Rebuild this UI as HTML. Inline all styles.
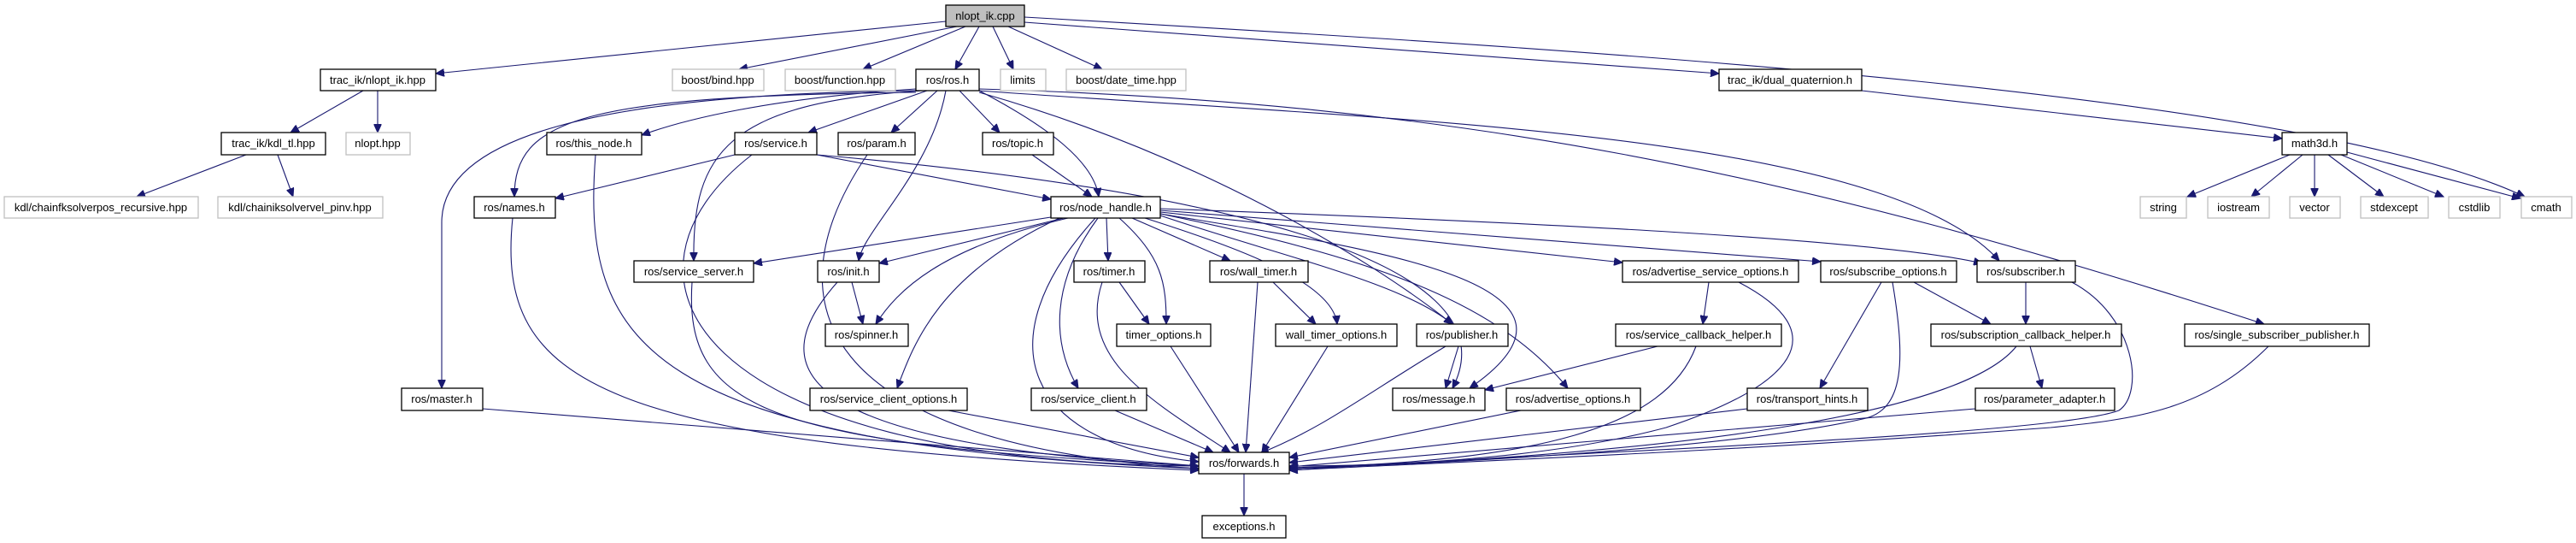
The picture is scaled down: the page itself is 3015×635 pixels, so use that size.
<!DOCTYPE html>
<html><head><meta charset="utf-8"><style>
html,body{margin:0;padding:0;background:#fff;}
svg{display:block}
text{font-family:"Liberation Sans",Arial,sans-serif;font-size:13px;fill:#000;text-anchor:middle}
.b{fill:#fff;stroke:#000;stroke-width:1.3}
.g{fill:#fff;stroke:#bfbfbf;stroke-width:1.3}
.e{fill:none;stroke:#191970;stroke-width:1.1}
</style></head><body>
<svg width="3015" height="635" viewBox="0 0 3015 635" xmlns="http://www.w3.org/2000/svg">
<defs><marker id="a" markerUnits="userSpaceOnUse" markerWidth="11" markerHeight="9" refX="10" refY="4.5" orient="auto"><path d="M0,0 L10,4.5 L0,9 z" fill="#191970" stroke="#191970"/></marker></defs>
<g class="e" marker-end="url(#a)">
<path d="M1107,25 L510,86"/>
<path d="M1120,31 L865,81"/>
<path d="M1130,31 L1010,81"/>
<path d="M1146,31 L1118,81"/>
<path d="M1162,31 L1186,81"/>
<path d="M1180,31 L1290,81"/>
<path d="M1199,26 L2012,86"/>
<path d="M1199,20 C1900,60 2700,110 2955,230"/>
<path d="M425,106 L340,155"/>
<path d="M442,106 L442,155"/>
<path d="M288,181 L160,230"/>
<path d="M325,181 L343,230"/>
<path d="M2179,106 L2671,162"/>
<path d="M2680,181 L2560,230"/>
<path d="M2695,181 L2635,230"/>
<path d="M2709,181 L2709,230"/>
<path d="M2725,181 L2790,230"/>
<path d="M2740,181 L2860,230"/>
<path d="M2747,178 L2950,232"/>
<path d="M1072,104 C900,115 800,140 751,158"/>
<path d="M1072,108 C680,112 602,140 602,230"/>
<path d="M1072,106 C700,110 517,160 517,260 L517,454"/>
<path d="M1080,106 C850,120 810,180 812,305"/>
<path d="M1085,106 L946,155"/>
<path d="M1097,106 L1043,155"/>
<path d="M1107,106 C1090,200 1010,270 1005,305"/>
<path d="M1123,106 L1170,155"/>
<path d="M1146,106 C1230,150 1280,190 1286,230"/>
<path d="M1146,108 C1400,180 1600,300 1700,379"/>
<path d="M1146,106 C1600,140 2200,150 2340,305"/>
<path d="M1146,104 C1700,120 2100,200 2650,379"/>
<path d="M860,181 L650,232"/>
<path d="M956,181 L1230,233"/>
<path d="M880,181 C700,320 800,540 1403,545"/>
<path d="M956,181 C1400,220 1780,300 1700,454"/>
<path d="M1015,181 C900,350 950,520 1403,548"/>
<path d="M697,181 C680,400 750,520 1403,548"/>
<path d="M600,255 C580,450 700,520 1403,550"/>
<path d="M565,478 L1403,545"/>
<path d="M1208,181 L1278,230"/>
<path d="M1230,254 L882,308"/>
<path d="M1245,255 L1029,308"/>
<path d="M1250,255 C1100,290 1050,340 1025,379"/>
<path d="M1240,255 C1100,320 1070,400 1050,454"/>
<path d="M1282,255 C1150,400 1200,520 1403,540"/>
<path d="M1285,255 C1230,330 1230,400 1262,454"/>
<path d="M1295,255 L1297,305"/>
<path d="M1310,255 C1360,300 1365,330 1365,379"/>
<path d="M1325,255 L1440,305"/>
<path d="M1340,255 C1450,290 1560,330 1565,379"/>
<path d="M1358,252 C1500,300 1640,330 1700,379"/>
<path d="M1358,250 C1600,290 1900,330 1720,454"/>
<path d="M1358,250 C1600,300 1750,350 1835,454"/>
<path d="M1358,248 L1899,307"/>
<path d="M1358,246 L2131,306"/>
<path d="M1358,244 C1800,260 2200,280 2320,308"/>
<path d="M997,330 L1010,379"/>
<path d="M980,330 C900,420 900,520 1403,545"/>
<path d="M810,330 C800,480 900,520 1403,545"/>
<path d="M1310,330 L1345,379"/>
<path d="M1290,330 C1260,420 1350,470 1440,529"/>
<path d="M1490,330 L1540,379"/>
<path d="M1472,330 L1458,529"/>
<path d="M1554,405 L1477,529"/>
<path d="M1370,405 L1450,529"/>
<path d="M1707,405 L1692,454"/>
<path d="M1692,405 C1600,460 1550,500 1475,530"/>
<path d="M1110,480 L1403,535"/>
<path d="M1305,480 L1420,529"/>
<path d="M1780,480 L1509,535"/>
<path d="M2000,330 L1993,379"/>
<path d="M2035,330 C2150,390 2100,450 1950,500 C1800,540 1600,545 1509,545"/>
<path d="M1940,405 L1738,456"/>
<path d="M1985,405 C1950,500 1800,540 1509,547"/>
<path d="M2202,330 L2130,454"/>
<path d="M2240,330 L2330,379"/>
<path d="M2215,330 C2230,420 2230,480 2180,490 C2000,530 1600,545 1509,548"/>
<path d="M2371,330 L2371,379"/>
<path d="M2425,330 C2500,370 2510,460 2480,480 C2400,510 1800,530 1509,550"/>
<path d="M2376,405 L2390,454"/>
<path d="M2360,405 C2300,480 2000,530 1509,548"/>
<path d="M2312,478 L1509,546"/>
<path d="M2045,478 L1509,541"/>
<path d="M2655,405 C2580,480 2500,490 2400,500 C2000,530 1700,540 1509,550"/>
<path d="M1456,554 L1456,603"/>
</g>
<g>
<rect x="1107" y="6" width="92" height="25" fill="#bfbfbf" stroke="#000" stroke-width="1.3"/><text x="1153" y="23">nlopt_ik.cpp</text>
<rect class="b" x="375" y="81" width="135" height="25"/><text x="442" y="98">trac_ik/nlopt_ik.hpp</text>
<rect class="g" x="787" y="81" width="107" height="25"/><text x="840" y="98">boost/bind.hpp</text>
<rect class="g" x="919" y="81" width="129" height="25"/><text x="983" y="98">boost/function.hpp</text>
<rect class="b" x="1072" y="81" width="74" height="25"/><text x="1109" y="98">ros/ros.h</text>
<rect class="g" x="1171" y="81" width="53" height="25"/><text x="1197" y="98">limits</text>
<rect class="g" x="1248" y="81" width="140" height="25"/><text x="1318" y="98">boost/date_time.hpp</text>
<rect class="b" x="2012" y="81" width="167" height="25"/><text x="2095" y="98">trac_ik/dual_quaternion.h</text>
<rect class="b" x="259" y="155" width="122" height="26"/><text x="320" y="172">trac_ik/kdl_tl.hpp</text>
<rect class="g" x="405" y="155" width="75" height="26"/><text x="442" y="172">nlopt.hpp</text>
<rect class="b" x="640" y="155" width="111" height="26"/><text x="695" y="172">ros/this_node.h</text>
<rect class="b" x="860" y="155" width="96" height="26"/><text x="908" y="172">ros/service.h</text>
<rect class="b" x="981" y="155" width="90" height="26"/><text x="1026" y="172">ros/param.h</text>
<rect class="b" x="1150" y="155" width="83" height="26"/><text x="1191" y="172">ros/topic.h</text>
<rect class="b" x="2671" y="155" width="76" height="26"/><text x="2709" y="172">math3d.h</text>
<rect class="g" x="5" y="230" width="227" height="25"/><text x="118" y="247">kdl/chainfksolverpos_recursive.hpp</text>
<rect class="g" x="255" y="230" width="193" height="25"/><text x="351" y="247">kdl/chainiksolvervel_pinv.hpp</text>
<rect class="b" x="555" y="230" width="95" height="25"/><text x="602" y="247">ros/names.h</text>
<rect class="b" x="1230" y="230" width="128" height="25"/><text x="1294" y="247">ros/node_handle.h</text>
<rect class="g" x="2505" y="230" width="54" height="25"/><text x="2532" y="247">string</text>
<rect class="g" x="2584" y="230" width="72" height="25"/><text x="2620" y="247">iostream</text>
<rect class="g" x="2680" y="230" width="59" height="25"/><text x="2709" y="247">vector</text>
<rect class="g" x="2763" y="230" width="79" height="25"/><text x="2802" y="247">stdexcept</text>
<rect class="g" x="2866" y="230" width="60" height="25"/><text x="2896" y="247">cstdlib</text>
<rect class="g" x="2951" y="230" width="59" height="25"/><text x="2980" y="247">cmath</text>
<rect class="b" x="742" y="305" width="140" height="25"/><text x="812" y="322">ros/service_server.h</text>
<rect class="b" x="957" y="305" width="72" height="25"/><text x="993" y="322">ros/init.h</text>
<rect class="b" x="1257" y="305" width="83" height="25"/><text x="1298" y="322">ros/timer.h</text>
<rect class="b" x="1416" y="305" width="115" height="25"/><text x="1473" y="322">ros/wall_timer.h</text>
<rect class="b" x="1899" y="305" width="206" height="25"/><text x="2002" y="322">ros/advertise_service_options.h</text>
<rect class="b" x="2131" y="305" width="159" height="25"/><text x="2210" y="322">ros/subscribe_options.h</text>
<rect class="b" x="2314" y="305" width="115" height="25"/><text x="2371" y="322">ros/subscriber.h</text>
<rect class="b" x="966" y="379" width="97" height="26"/><text x="1014" y="396">ros/spinner.h</text>
<rect class="b" x="1307" y="379" width="110" height="26"/><text x="1362" y="396">timer_options.h</text>
<rect class="b" x="1493" y="379" width="142" height="26"/><text x="1564" y="396">wall_timer_options.h</text>
<rect class="b" x="1658" y="379" width="107" height="26"/><text x="1711" y="396">ros/publisher.h</text>
<rect class="b" x="1891" y="379" width="194" height="26"/><text x="1988" y="396">ros/service_callback_helper.h</text>
<rect class="b" x="2260" y="379" width="223" height="26"/><text x="2371" y="396">ros/subscription_callback_helper.h</text>
<rect class="b" x="2557" y="379" width="216" height="26"/><text x="2665" y="396">ros/single_subscriber_publisher.h</text>
<rect class="b" x="470" y="454" width="95" height="26"/><text x="517" y="471">ros/master.h</text>
<rect class="b" x="948" y="454" width="184" height="26"/><text x="1040" y="471">ros/service_client_options.h</text>
<rect class="b" x="1207" y="454" width="135" height="26"/><text x="1274" y="471">ros/service_client.h</text>
<rect class="b" x="1630" y="454" width="108" height="26"/><text x="1684" y="471">ros/message.h</text>
<rect class="b" x="1763" y="454" width="157" height="26"/><text x="1841" y="471">ros/advertise_options.h</text>
<rect class="b" x="2045" y="454" width="141" height="26"/><text x="2115" y="471">ros/transport_hints.h</text>
<rect class="b" x="2312" y="454" width="163" height="26"/><text x="2393" y="471">ros/parameter_adapter.h</text>
<rect class="b" x="1403" y="529" width="106" height="25"/><text x="1456" y="546">ros/forwards.h</text>
<rect class="b" x="1407" y="603" width="98" height="26"/><text x="1456" y="620">exceptions.h</text>
</g>
</svg>
</body></html>
